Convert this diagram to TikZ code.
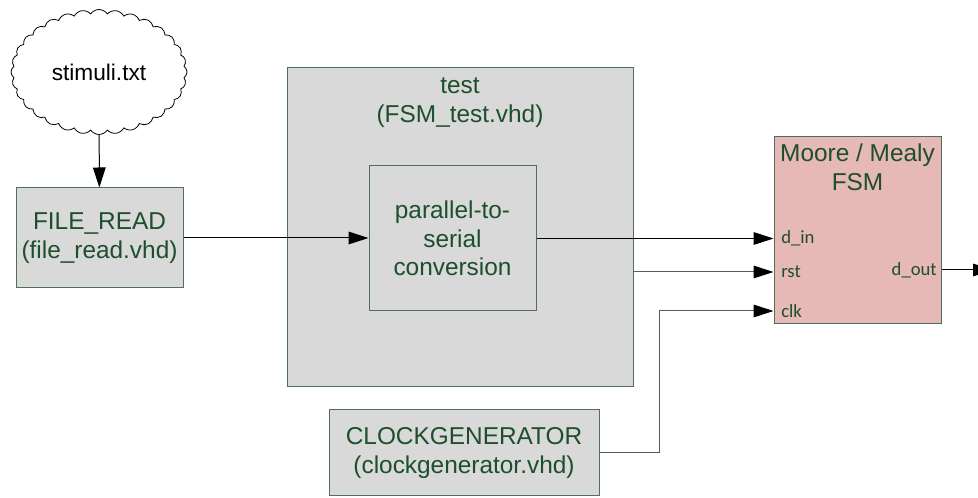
\documentclass[tikz,border=0pt]{standalone}
\usepackage{fontspec}
\setmainfont{Liberation Sans}
\newfontfamily\portfont{Carlito}
\usetikzlibrary{shapes.symbols,arrows.meta,positioning}
\definecolor{vert}{RGB}{29,79,44}
\definecolor{bord}{RGB}{80,112,86}
\definecolor{gris}{RGB}{217,217,217}
\definecolor{rose}{RGB}{230,184,183}
\definecolor{fil}{RGB}{90,90,90}

\begin{document}
\begin{tikzpicture}[x=0.75pt,y=-0.75pt, % 1 unité = 1 pixel
	bloc/.style={draw=bord,fill=gris,line width=0.75pt,text=vert,align=center,inner sep=0pt,font=\fontsize{18.3}{21.5}\selectfont},
	titre/.style={text=vert,align=center,inner sep=0pt,font=\fontsize{18.3}{21.5}\selectfont},
	port/.style={text=vert,inner sep=0pt,font=\portfont\fontsize{14}{16}\selectfont},
	fleche/.style={line width=0.75pt,-{Triangle[length=15pt,width=9.5pt,color=black]}}]

\useasboundingbox (0,0) rectangle (978,498);

\node[cloud,draw,line width=0.6pt,cloud puffs=32,cloud puff arc=110,aspect=1.4,minimum width=132pt,minimum height=93.75pt,inner sep=0pt,font=\fontsize{17}{20}\selectfont] (nuage) at (99,72) {stimuli.txt};

\node[bloc,minimum width=125.25pt,minimum height=75pt] (fileread) at (99.5,238) {FILE\_READ\\(file\_read.vhd)};

% bloc de test et son convertisseur
\node[bloc,minimum width=259.5pt,minimum height=239.25pt] (test) at (460,227.5) {};
\node[titre] (testlbl) at (460,102.5) {test\\(FSM\_test.vhd)};
\node[bloc,minimum width=125.25pt,minimum height=108.75pt] (conv) at (452.5,238.5) {parallel-to-\\serial\\conversion};

\node[bloc,minimum width=202.5pt,minimum height=64.5pt] (clkgen) at (464,453) {CLOCKGENERATOR\\(clockgenerator.vhd)};

% machine d'états
\node[bloc,fill=rose,minimum width=125.25pt,minimum height=140.25pt] (fsm) at (857.5,230.5) {};
\node[titre] (fsmlbl) at (857.5,167.5) {Moore / Mealy\\FSM};
\node[port,anchor=west] (din) at (781,238) {d\_in};
\node[port,anchor=west] (rst) at (781,272) {rst};
\node[port,anchor=west] (clk) at (781,311) {clk};
\node[port,anchor=east] (dout) at (937,270) {d\_out};
\coordinate (sortie) at (993,270);

\draw[fleche] (nuage) -- (fileread);
\draw[fleche] (fileread.east) -- (fileread.east -| conv.west);
\draw[fleche] (conv.east) -- (conv.east -| fsm.west);
\draw[fleche,draw=fil] (test.east |- rst) -- (rst -| fsm.west);
\draw[fleche,draw=fil] (clkgen.east) -- ++(60,0) |- (clk -| fsm.west);
\draw[fleche] (fsm.east |- dout) -- (sortie);

\end{tikzpicture}
\end{document}
